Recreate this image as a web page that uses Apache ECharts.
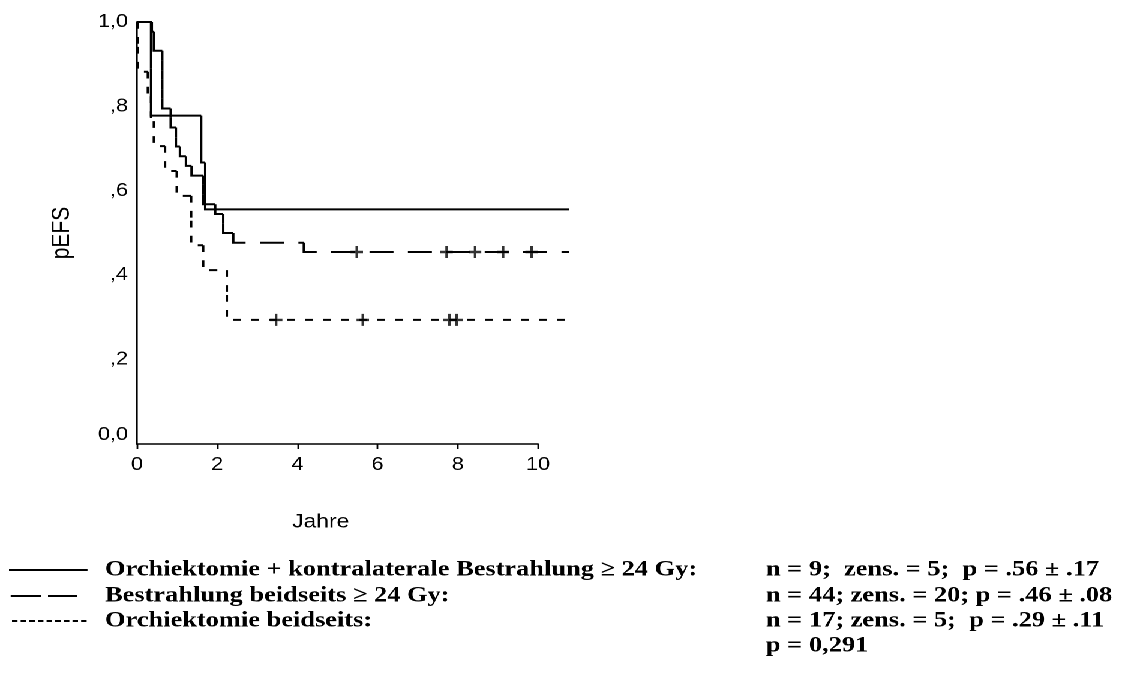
<!DOCTYPE html>
<html>
<head>
<meta charset="utf-8">
<title>pEFS</title>
<script src="https://cdn.jsdelivr.net/npm/echarts@6/dist/echarts.min.js"></script>
<style>
  html, body { margin: 0; padding: 0; background: #fff; }
  #wrap { width: 1122px; height: 681px; overflow: hidden; }
  /* the figure is laid out narrow and widened horizontally, like the printed original */
  #chart { width: 935px; height: 681px; transform: scaleX(1.2); transform-origin: 0 0; }
</style>
</head>
<body>
<div id="wrap"><div id="chart"></div></div>
<script>
// Kaplan-Meier events, one entry per event: time (years) and survival after it
const solidTimes = [0.35, 0.35, 1.6, 1.7];
const solidSurv  = [0.889, 0.778, 0.667, 0.556];

const longTimes = [0.37, 0.42, 0.42, 0.63, 0.63, 0.63, 0.63, 0.63, 0.63, 0.84, 0.84, 0.97, 0.97,
                   1.07, 1.22, 1.36, 1.65, 1.65, 1.65, 1.95, 2.15, 2.15, 2.4, 4.16];
const longSurv  = [0.977, 0.955, 0.932, 0.909, 0.886, 0.864, 0.841, 0.818, 0.795, 0.773, 0.75, 0.727, 0.705,
                   0.682, 0.659, 0.636, 0.614, 0.591, 0.568, 0.545, 0.523, 0.5, 0.477, 0.455];
const longCensor = [5.48, 7.72, 8.43, 9.13, 9.84];

const shortTimes = [0.02, 0.02, 0.27, 0.35, 0.42, 0.70, 0.99, 1.35, 1.35, 1.65, 2.24, 2.24];
const shortSurv  = [0.941, 0.882, 0.824, 0.765, 0.706, 0.647, 0.588, 0.529, 0.471, 0.412, 0.353, 0.294];
const shortCensor = [3.47, 5.63, 7.79, 7.97];

const followUpEnd = 10.77;     // last observation, curves run to here

// axis ticks and labels
const yTicks  = [0, 0.2, 0.4, 0.6, 0.8, 1.0];
const yLabels = ['0,0', ',2', ',4', ',6', ',8', '1,0'];
const xTicks  = [0, 2, 4, 6, 8, 10];

// legend texts
const groupNames = [
  'Orchiektomie + kontralaterale Bestrahlung \u2265 24 Gy:',
  'Bestrahlung beidseits \u2265 24 Gy:',
  'Orchiektomie beidseits:'
];
const groupStats = [
  'n = 9;  zens. = 5;  p = .56 \u00b1 .17',
  'n = 44; zens. = 20; p = .46 \u00b1 .08',
  'n = 17; zens. = 5;  p = .29 \u00b1 .11',
  'p = 0,291'
];

const sans = 'Liberation Sans, Arial, sans-serif';
const serif = 'Liberation Serif, Times New Roman, serif';
const plus = 'path://M4,0H6V4H10V6H6V10H4V6H0V4H4Z';

// every step is its own path: drop at the event time, then level until the next event
function kmSegments(times, surv) {
  const segs = [{ coords: [[0, 1], [times[0], 1]] }];
  let prev = 1;
  times.forEach((t, i) => {
    const next = i + 1 < times.length ? times[i + 1] : followUpEnd;
    segs.push({ coords: [[t, prev], [t, surv[i]], [next, surv[i]]] });
    prev = surv[i];
  });
  return segs;
}
function kmSeries(name, times, surv, dash) {
  return {
    name, type: 'lines', coordinateSystem: 'cartesian2d', polyline: true,
    data: kmSegments(times, surv), clip: false, silent: true,
    lineStyle: { color: '#000', width: 2, type: dash, cap: 'butt', join: 'miter', opacity: 1 },
    z: 3
  };
}
function censorSeries(times, level) {
  return {
    type: 'scatter', data: times.map(t => [t, level]), symbol: plus, symbolSize: [10.4, 12],
    itemStyle: { color: '#000' }, clip: false, silent: true, z: 4
  };
}

const legendRowsY = [570, 596, 621, 646];
const graphics = [];
// legend line samples
graphics.push({ type: 'line', shape: { x1: 7.5, y1: legendRowsY[0], x2: 72.9, y2: legendRowsY[0] },
  style: { stroke: '#000', lineWidth: 2 } });
graphics.push({ type: 'line', shape: { x1: 8.9, y1: legendRowsY[1], x2: 64.2, y2: legendRowsY[1] },
  style: { stroke: '#000', lineWidth: 2, lineDash: [25.3, 5.8] } });
graphics.push({ type: 'line', shape: { x1: 10, y1: legendRowsY[2], x2: 74.2, y2: legendRowsY[2] },
  style: { stroke: '#000', lineWidth: 2, lineDash: [4.6, 2.6] } });
groupNames.forEach((t, i) => graphics.push({
  type: 'text', x: 87.5, y: legendRowsY[i],
  style: { text: t, fill: '#000', font: 'bold 22px ' + serif, verticalAlign: 'middle' }
}));
groupStats.forEach((t, i) => graphics.push({
  type: 'text', x: 638.3, y: legendRowsY[i],
  style: { text: t, fill: '#000', font: 'bold 22px ' + serif, verticalAlign: 'middle' }
}));

const chart = echarts.init(document.getElementById('chart'), null, { devicePixelRatio: 2 });
chart.setOption({
  animation: false,
  backgroundColor: '#fff',
  grid: { left: 114.17, top: 22, width: 334.17, height: 422 },
  xAxis: {
    type: 'value', min: 0, max: 10, interval: 2,
    name: 'Jahre', nameLocation: 'middle', nameGap: 69,
    nameTextStyle: { color: '#000', fontSize: 19, fontFamily: sans, padding: [0, 28, 0, 0] },
    axisLine: { lineStyle: { color: '#000', width: 1.6 } },
    axisTick: { length: 5, lineStyle: { color: '#000', width: 1.4 } },
    axisLabel: { margin: 12, color: '#000', fontSize: 18, fontFamily: sans,
      formatter: v => String(xTicks.find(t => Math.abs(t - v) < 1e-6) ?? v) },
    splitLine: { show: false }
  },
  yAxis: {
    type: 'value', min: 0, max: 1,
    name: 'pEFS', nameLocation: 'middle', nameGap: 52, nameRotate: 90,
    nameTextStyle: { color: '#000', fontSize: 21, fontFamily: sans },
    axisLine: { show: true, lineStyle: { color: '#000', width: 1.6 } },
    axisTick: { show: false },
    axisLabel: {
      customValues: yTicks, margin: 7.5, color: '#000', fontSize: 18, fontFamily: sans,
      formatter: v => {
        const i = yTicks.findIndex(t => Math.abs(t - v) < 1e-6);
        const s = i >= 0 ? yLabels[i] : '';
        return i === 0 ? '{z|' + s + '}' : s;
      },
      rich: { z: { color: '#000', fontSize: 18, fontFamily: sans, padding: [0, 0, 18, 0] } }
    },
    splitLine: { show: false }
  },
  series: [
    kmSeries('Orchiektomie + kontralaterale Bestrahlung', solidTimes, solidSurv, 'solid'),
    kmSeries('Bestrahlung beidseits', longTimes, longSurv, [20, 12]),
    kmSeries('Orchiektomie beidseits', shortTimes, shortSurv, [6.7, 8.3]),
    censorSeries(longCensor, longSurv[longSurv.length - 1]),
    censorSeries(shortCensor, shortSurv[shortSurv.length - 1])
  ],
  graphic: graphics
});
</script>
</body>
</html>
